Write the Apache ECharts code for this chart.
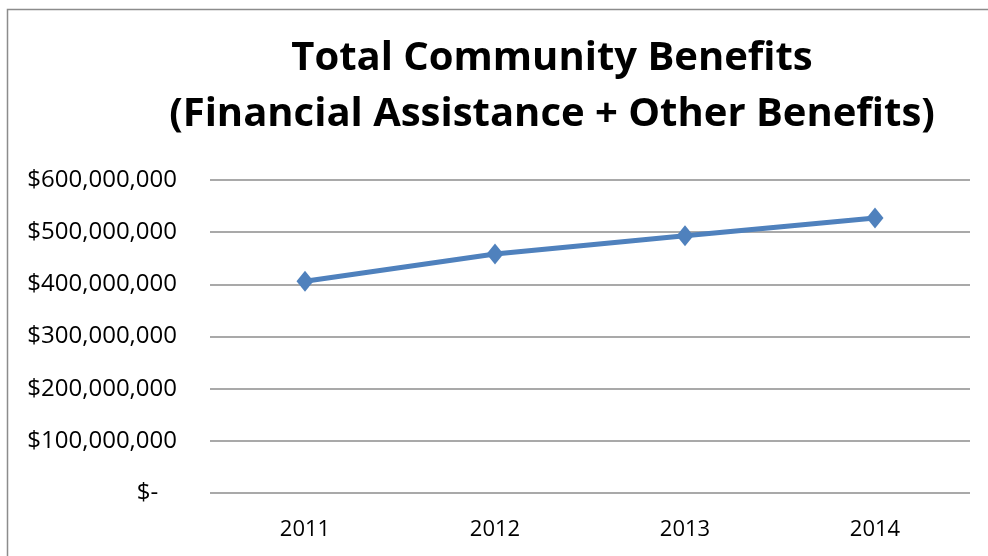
<!DOCTYPE html>
<html>
<head>
<meta charset="utf-8">
<script src="https://cdn.jsdelivr.net/npm/echarts@6/dist/echarts.min.js"></script>
<style>
  html, body { margin: 0; padding: 0; background: #fff; }
  #chart { width: 988px; height: 556px; }
</style>
</head>
<body>
<div id="chart"></div>
<script>
// Fiscal years on the category axis
const years = ['2011', '2012', '2013', '2014'];
// Total community benefits, in dollars
const totalBenefits = [406000000, 458000000, 493000000, 527000000];
// Value-axis ticks
const tickValues = [0, 100000000, 200000000, 300000000, 400000000, 500000000, 600000000];

const titleLines = ['Total Community Benefits', '(Financial Assistance + Other Benefits)'];
const FONT = 'Open Sans';

function money(v) {
  if (v === 0) return '$-   ';
  return '$' + v.toLocaleString('en-US');
}

const chart = echarts.init(document.getElementById('chart'), null, { renderer: 'canvas' });
chart.setOption({
  backgroundColor: '#ffffff',
  animation: false,
  title: {
    text: titleLines.join('\n'),
    left: 552,
    textAlign: 'center',
    top: 31,
    padding: 0,
    textStyle: {
      fontFamily: FONT,
      fontWeight: 'bold',
      fontSize: 40,
      lineHeight: 56,
      color: '#000'
    }
  },
  graphic: [{
    type: 'rect',
    shape: { x: 7.5, y: 9.5, width: 2000, height: 1000 },
    style: { fill: 'none', stroke: '#8c8c8c', lineWidth: 1.5 },
    silent: true
  }],
  grid: { left: 210, right: 18, top: 180, bottom: 63, containLabel: false },
  xAxis: {
    type: 'category',
    data: years,
    boundaryGap: true,
    axisLine: { show: false },
    axisTick: { show: false },
    axisLabel: { margin: 26, fontFamily: FONT, fontSize: 22, color: '#000' }
  },
  yAxis: {
    type: 'value',
    min: tickValues[0],
    max: tickValues[tickValues.length - 1],
    interval: tickValues[1] - tickValues[0],
    axisLine: { show: false },
    axisTick: { show: false },
    splitLine: { lineStyle: { color: '#8c8c8c', width: 1.5 } },
    axisLabel: {
      margin: 33,
      fontFamily: FONT,
      fontSize: 24,
      color: '#000',
      formatter: money
    }
  },
  series: [{
    type: 'line',
    data: totalBenefits,
    symbol: 'diamond',
    symbolSize: [17, 21],
    lineStyle: { color: '#4F81BD', width: 5 },
    itemStyle: { color: '#4F81BD' }
  }]
});
</script>
</body>
</html>
